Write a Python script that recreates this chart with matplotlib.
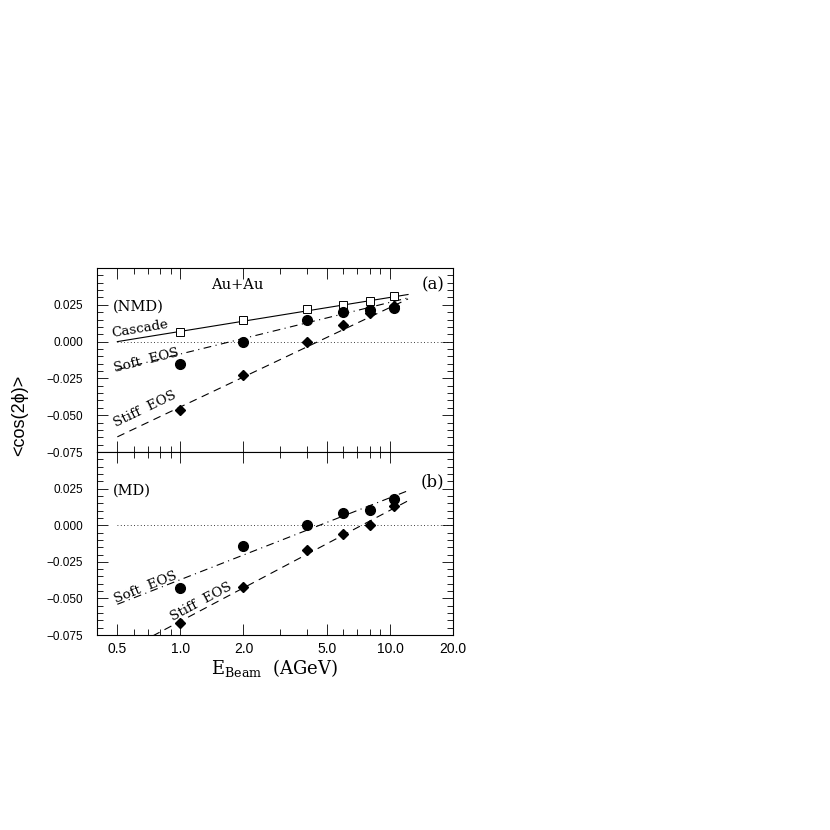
import numpy as np
import matplotlib.pyplot as plt
from matplotlib.ticker import FixedLocator, LogLocator, MultipleLocator, NullFormatter

plt.rcParams['font.family'] = ['DejaVu Serif']
plt.rcParams['mathtext.fontset'] = 'dejavuserif'

# beam energies (AGeV)
ebeam = [1.0, 2.0, 4.0, 6.0, 8.0, 10.5]

# panel (a): NMD
casc_a = [0.0068, 0.0149, 0.0223, 0.0250, 0.0277, 0.0310]
soft_a = [-0.0155, 0.0000, 0.0149, 0.0198, 0.0216, 0.0225]
stiff_a = [-0.0462, -0.0225, 0.0000, 0.0115, 0.0194, 0.0240]

# panel (b): MD
soft_b = [-0.0426, -0.0140, 0.0000, 0.0083, 0.0101, 0.0180]
stiff_b = [-0.0670, -0.0424, -0.0169, -0.0063, 0.0000, 0.0128]

err = [0.0018, 0.0015, 0.0015, 0.0015, 0.0015, 0.0015]

# fit lines (end points)
fit_x = [0.5, 12.2]
fit_casc_a = [0.0000, 0.0320]
fit_soft_a = [-0.0190, 0.0297]
fit_stiff_a = [-0.0647, 0.0290]
fit_soft_b = [-0.0540, 0.0236]
fit_stiff_b = [-0.0884, 0.0167]

fig = plt.figure(figsize=(8.3, 8.3), dpi=100)
ax1 = fig.add_axes([0.1169, 0.4554, 0.4289, 0.2217])
ax2 = fig.add_axes([0.1169, 0.2349, 0.4289, 0.2205])

for ax in (ax1, ax2):
    ax.set_xscale('log')
    ax.set_xlim(0.4, 20)
    ax.set_ylim(-0.075, 0.05)
    ax.plot([0.5, 20], [0, 0], ls=(0, (1, 3)), color='black', lw=0.6)
    ax.xaxis.set_major_locator(FixedLocator([0.5, 1, 2, 5, 10, 20]))
    ax.xaxis.set_minor_locator(LogLocator(base=10, subs=np.arange(1, 10)))
    ax.xaxis.set_minor_formatter(NullFormatter())
    ax.yaxis.set_major_locator(FixedLocator([-0.075, -0.05, -0.025, 0.0, 0.025]))
    ax.yaxis.set_minor_locator(MultipleLocator(0.005))
    ax.tick_params(which='both', direction='in', top=True, right=True, width=0.6)
    ax.tick_params(which='major', length=8)
    ax.tick_params(which='minor', length=4)
    ax.tick_params(axis='y', pad=10)
    ax.set_yticklabels(['\u22120.075', '\u22120.050', '\u22120.025', '0.000', '0.025'],
                       family='Liberation Sans', fontsize=8.5)
    for s in ax.spines.values():
        s.set_linewidth(0.8)

ax1.tick_params(labelbottom=False)
ax2.tick_params(axis='x', pad=5)
ax2.set_xticklabels(['0.5', '1.0', '2.0', '5.0', '10.0', '20.0'], fontsize=10,
                    family='Liberation Sans')

ls_soft = (0, (7, 4, 1, 4))
ls_stiff = (0, (7, 5))

# panel (a)
ax1.plot(fit_x, fit_casc_a, '-', color='black', lw=0.8)
ax1.plot(fit_x, fit_soft_a, color='black', lw=0.8, ls=ls_soft)
ax1.plot(fit_x, fit_stiff_a, color='black', lw=0.8, ls=ls_stiff)
ax1.errorbar(ebeam, casc_a, yerr=err, fmt='s', mfc='white', mec='black', ms=5.5, mew=0.7,
             ecolor='black', elinewidth=0.7, capsize=0)
ax1.errorbar(ebeam, stiff_a, yerr=err, fmt='D', color='black', ms=5, elinewidth=0.8, capsize=0)
ax1.errorbar(ebeam, soft_a, yerr=err, fmt='o', color='black', ms=7, elinewidth=0.8, capsize=0)

ax1.text(0.393, 0.905, 'Au+Au', transform=ax1.transAxes, fontsize=10.5, ha='center', va='center')
ax1.text(0.045, 0.788, '(NMD)', transform=ax1.transAxes, fontsize=10.5, ha='left', va='center')
ax1.text(0.975, 0.908, '(a)', transform=ax1.transAxes, fontsize=12, ha='right', va='center')
ax1.text(0.644, 0.0088, 'Cascade', fontsize=9.7, rotation=9.4, ha='center', va='center',
         rotation_mode='anchor')
ax1.text(0.69, -0.0128, 'Soft  EOS', fontsize=9.7, rotation=14, ha='center', va='center',
         rotation_mode='anchor')
ax1.text(0.68, -0.0462, 'Stiff  EOS', fontsize=9.7, rotation=25.7, ha='center', va='center',
         rotation_mode='anchor')

# panel (b)
ax2.plot(fit_x, fit_soft_b, color='black', lw=0.8, ls=ls_soft)
ax2.plot(fit_x, fit_stiff_b, color='black', lw=0.8, ls=ls_stiff)
ax2.errorbar(ebeam, stiff_b, yerr=err, fmt='D', color='black', ms=5, elinewidth=0.8, capsize=0)
ax2.errorbar(ebeam, soft_b, yerr=err, fmt='o', color='black', ms=7, elinewidth=0.8, capsize=0)

ax2.text(0.045, 0.79, '(MD)', transform=ax2.transAxes, fontsize=10.5, ha='left', va='center')
ax2.text(0.975, 0.836, '(b)', transform=ax2.transAxes, fontsize=12, ha='right', va='center')
ax2.text(0.68, -0.0426, 'Soft  EOS', fontsize=9.7, rotation=21.6, ha='center', va='center',
         rotation_mode='anchor')
ax2.text(1.25, -0.0527, 'Stiff  EOS', fontsize=9.7, rotation=28.2, ha='center', va='center',
         rotation_mode='anchor')

ax2.set_xlabel(r'E$_{\rm Beam}$  (AGeV)', fontsize=13, labelpad=1)
fig.text(0.024, 1 - 415 / 830, '<cos(2\u03d5)>', rotation=90, ha='center', va='center',
         family='Liberation Sans', fontsize=13)

fig.savefig('out.png', dpi=100)
